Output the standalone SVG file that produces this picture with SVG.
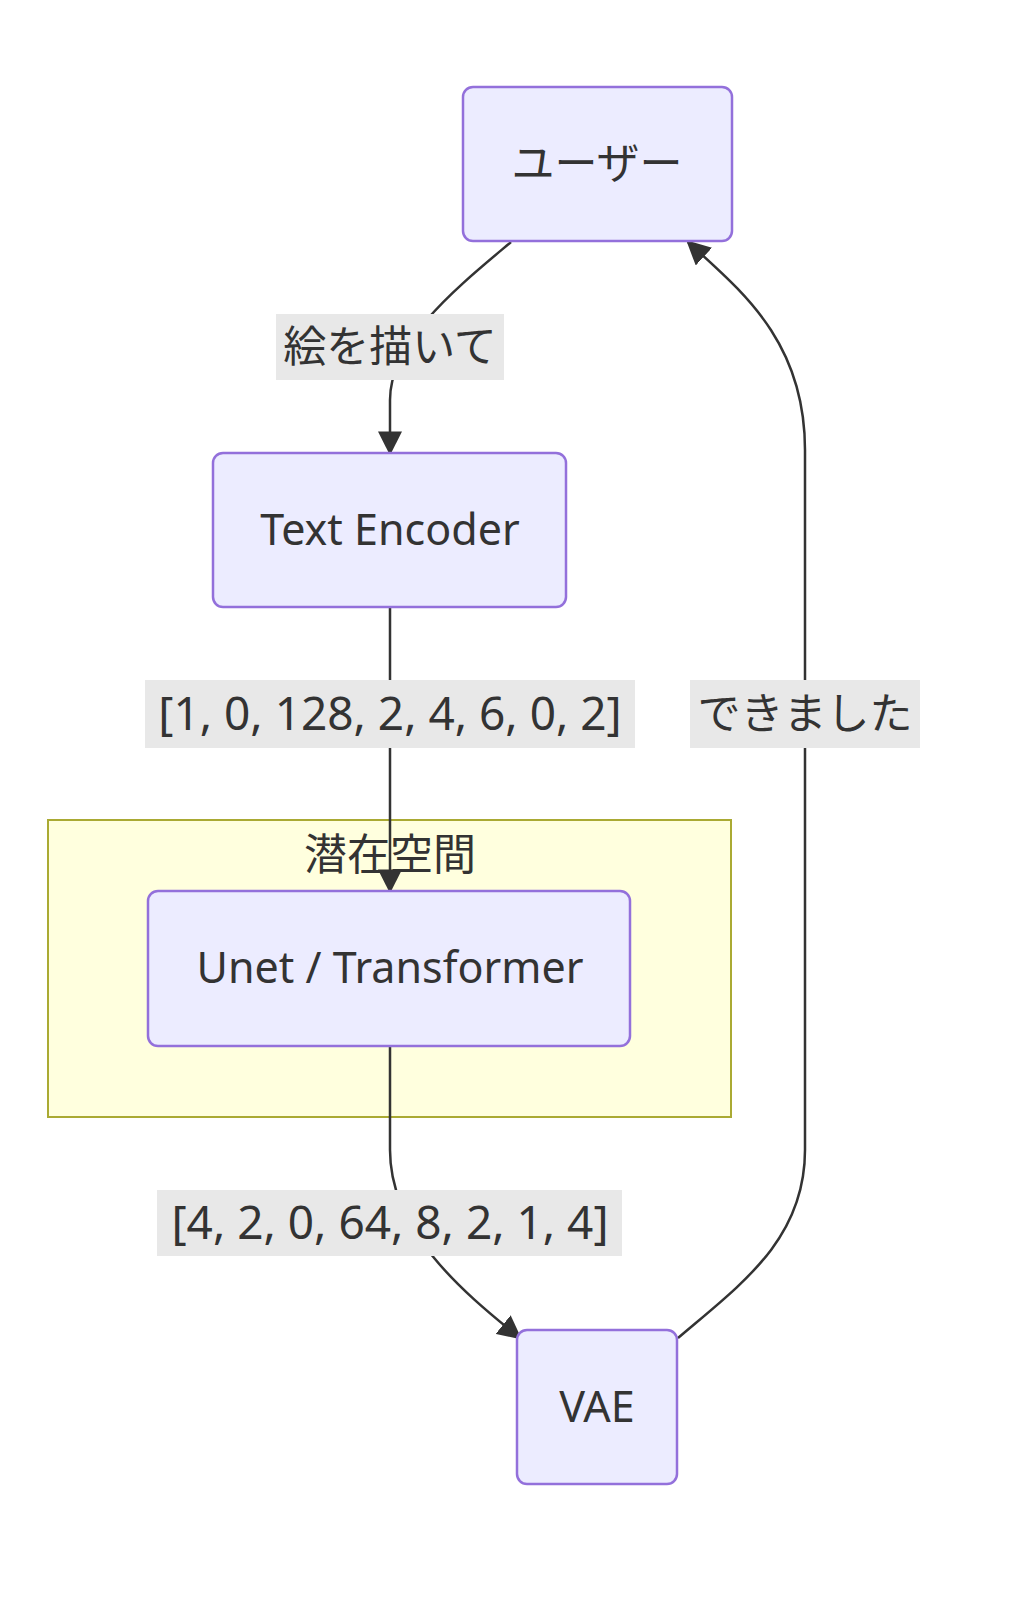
<svg xmlns="http://www.w3.org/2000/svg" width="1010" height="1601" viewBox="0 0 1010 1601">
<style>
.n rect{fill:#ECECFF;stroke:#9370DB;stroke-width:2.5}
text{font-family:"Noto Sans","Noto Sans CJK JP",sans-serif;font-size:43px;fill:#333;text-anchor:middle;dominant-baseline:central}
.lbt{font-size:46px}
.e path{fill:none;stroke:#333;stroke-width:2.5}
.lb{fill:#e8e8e8}
</style>
<defs>
<marker id="b" viewBox="0 0 10 10" refX="9" refY="5" markerWidth="24" markerHeight="24" markerUnits="userSpaceOnUse" orient="auto"><path d="M0 0L10 5L0 10z" fill="#333"/></marker></defs>
<g id="sub"><rect x="48" y="820" width="683" height="297" fill="#ffffde" stroke="#aaaa33" stroke-width="2"/><text x="390" y="853">潜在空間</text></g>
<g class="e" id="edges">
<path d="M511 242C460 285 390 340 390 400L390 453" marker-end="url(#b)"/>
<path d="M390 607L390 891" marker-end="url(#b)"/>
<path d="M390 1046L390 1150C390 1230 460 1290 520 1338" marker-end="url(#b)"/>
<path d="M678 1338C740 1285 805 1240 805 1150L805 450C805 340 740 290 688 242" marker-end="url(#b)"/>
</g>
<g id="labels">
<rect class="lb" x="276" y="314" width="228" height="66"/><text x="390" y="345">絵を描いて</text>
<rect class="lb" x="145" y="680" width="490" height="68"/><text class="lbt" x="390" y="712">[1, 0, 128, 2, 4, 6, 0, 2]</text>
<rect class="lb" x="157" y="1190" width="465" height="66"/><text class="lbt" x="390" y="1221">[4, 2, 0, 64, 8, 2, 1, 4]</text>
<rect class="lb" x="690" y="680" width="230" height="68"/><text x="805" y="712">できました</text>
</g>
<g id="user" class="n"><rect x="463" y="87" width="269" height="154" rx="10"/><text x="597" y="162">ユーザー</text></g>
<g id="te" class="n"><rect x="213" y="453" width="353" height="154" rx="10"/><text x="390" y="528">Text Encoder</text></g>
<g id="unet" class="n"><rect x="148" y="891" width="482" height="155" rx="10"/><text x="390" y="966">Unet / Transformer</text></g>
<g id="vae" class="n"><rect x="517" y="1330" width="160" height="154" rx="10"/><text x="597" y="1405">VAE</text></g>
</svg>
